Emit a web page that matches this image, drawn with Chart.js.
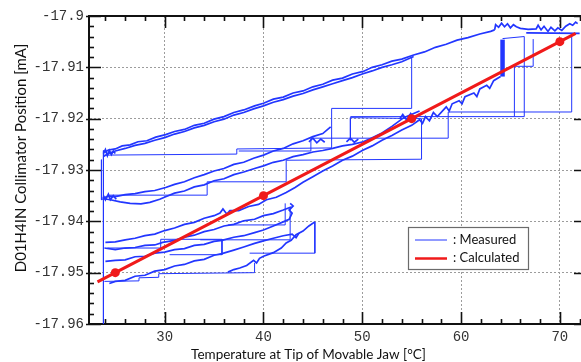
<!DOCTYPE html>
<html>
<head>
<meta charset="utf-8">
<script src="https://cdn.jsdelivr.net/npm/chart.js@4.4.1/dist/chart.umd.min.js"></script>
<style>
  html, body { margin: 0; padding: 0; background: #fff; }
  #wrap { width: 581px; height: 362px; }
</style>
</head>
<body>
<div id="wrap"><canvas id="chart" width="581" height="362"></canvas></div>
<script>
// Axis ticks
const xTicks = [30, 40, 50, 60, 70];
const yTicks = [-17.96, -17.95, -17.94, -17.93, -17.92, -17.91, -17.9];

// Calculated (red) line and its markers
const calcX = [23.2, 25, 40, 55, 70, 71.6];
const calcY = [-17.9518, -17.95, -17.935, -17.92, -17.905, -17.9034];
const calcMarked = [false, true, true, true, true, false];

// Measured traces, [temperature, position]
const upperOut = [[23.9,-17.9266],[24.3,-17.9261],[25,-17.9259],[25.7,-17.9253],[26.5,-17.9251],[27.3,-17.9245],[28.2,-17.9243],[29.1,-17.9236],[30.1,-17.9231],[31,-17.9225],[32,-17.9221],[33,-17.9213],[34,-17.9209],[35,-17.9201],[36,-17.9196],[37,-17.9188],[38,-17.9183],[39.1,-17.9175],[40,-17.9170],[41,-17.9162],[42,-17.9158],[43,-17.9150],[44,-17.9146],[45,-17.9138],[46,-17.9133],[47,-17.9125],[48,-17.9121],[49,-17.9113],[50.1,-17.9108],[51,-17.9100],[52,-17.9095],[53,-17.9088],[54,-17.9084],[55.2,-17.9076],[56.3,-17.9070],[57.4,-17.9061],[58.5,-17.9055],[59.6,-17.9047],[60.7,-17.9042],[61.9,-17.9035],[63,-17.9030],[63.4,-17.9027]];
const topCluster = [[63.4,-17.9027],[63.5,-17.9017],[63.8,-17.9022],[64.1,-17.9014],[64.4,-17.9021],[64.7,-17.9015],[65.0,-17.9023],[65.3,-17.9017],[65.6,-17.9021],[66.0,-17.9024],[66.8,-17.9026],[67.6,-17.9025],[67.8,-17.9018],[68.1,-17.9027],[68.4,-17.9020],[68.8,-17.9030],[69.1,-17.9022],[69.5,-17.9029],[69.8,-17.9023],[70.2,-17.9028],[70.6,-17.9020],[71.0,-17.9015],[71.3,-17.9018],[71.6,-17.9012],[71.8,-17.9015]];
const topRightLow = [[66.6,-17.9033],[72,-17.9034]];
const upperBack = [[55.2,-17.9079],[54,-17.9089],[53,-17.9095],[52,-17.9100],[51,-17.9107],[50,-17.9113],[49,-17.9120],[48,-17.9126],[47,-17.9132],[46,-17.9138],[45,-17.9144],[44,-17.9151],[43,-17.9156],[42,-17.9163],[41,-17.9168],[40,-17.9175],[39,-17.9181],[38,-17.9188],[37,-17.9193],[36,-17.9201],[35,-17.9206],[34,-17.9213],[33,-17.9218],[32,-17.9225],[31,-17.9230],[30,-17.9237],[29,-17.9242],[28,-17.9248],[27,-17.9252],[26,-17.9258],[25,-17.9263],[24.3,-17.9268],[23.8,-17.9274]];
const leftDrop = [[23.8,-17.9262],[23.8,-17.9600]];
const leftDrop2 = [[23.6,-17.9280],[23.6,-17.9358],[24.2,-17.9352]];
const startBlobTop = [[23.8,-17.9268],[24.0,-17.9260],[24.2,-17.9272],[24.4,-17.9262],[24.6,-17.9270],[24.8,-17.9263],[25.0,-17.9268]];
const startBlobMid = [[23.8,-17.9350],[24.0,-17.9358],[24.3,-17.9347],[24.5,-17.9358],[24.8,-17.9350],[25.1,-17.9357]];
const midUpper = [[23.7,-17.9355],[24.3,-17.9351],[25,-17.9352],[26,-17.9348],[27,-17.9346],[28,-17.9342],[29,-17.9340],[30.1,-17.9334],[31,-17.9328],[32,-17.9323],[33,-17.9315],[34,-17.9309],[35,-17.9302],[36,-17.9297],[37,-17.9289],[38,-17.9285],[39,-17.9277],[40,-17.9271],[41,-17.9263],[42,-17.9258],[43,-17.9249],[44,-17.9243],[45,-17.9235],[46,-17.9229],[46.8,-17.9216]];
const midLower = [[23.8,-17.9356],[24.5,-17.9358],[25.5,-17.9362],[26.5,-17.9365],[27.6,-17.9366],[28.5,-17.9363],[29.5,-17.9357],[30.1,-17.9352],[31,-17.9345],[32,-17.9341],[33,-17.9333],[34,-17.9329],[35,-17.9321],[36,-17.9317],[37,-17.9309],[38,-17.9304],[39.1,-17.9297],[40,-17.9292],[41,-17.9285],[42,-17.9281],[43,-17.9274],[44,-17.9270],[45,-17.9265],[46,-17.9262],[47,-17.9258],[48,-17.9253],[49,-17.9250],[50.1,-17.9245],[51,-17.9237],[52,-17.9228],[53,-17.9215],[54.2,-17.9198],[55.2,-17.9190],[55.8,-17.9185]];
const redHug = [[24.0,-17.9441],[25,-17.9440],[26,-17.9436],[27,-17.9433],[28,-17.9428],[29,-17.9425],[30,-17.9418],[31,-17.9413],[32,-17.9406],[33,-17.9402],[34,-17.9394],[35,-17.9389],[35.6,-17.9384],[35.9,-17.9376],[36.3,-17.9386],[36.6,-17.9379],[37.5,-17.9379],[38.5,-17.9371],[39.5,-17.9367],[40.3,-17.9358],[41.3,-17.9353],[42.3,-17.9344],[43.2,-17.9334],[44,-17.9324],[45,-17.9313],[46,-17.9302],[47,-17.9292],[48,-17.9281],[49,-17.9273],[50,-17.9262],[51,-17.9253],[52,-17.9242],[53,-17.9233],[54,-17.9222],[55,-17.9213],[55.8,-17.9202],[56.1,-17.9209],[56.4,-17.9196],[56.8,-17.9204],[57.2,-17.9188],[57.6,-17.9196],[58.5,-17.9177],[58.8,-17.9185],[59.1,-17.9171],[59.8,-17.9165],[60.1,-17.9171],[60.4,-17.9157],[61.3,-17.9150],[61.6,-17.9157],[61.9,-17.9142],[62.6,-17.9135],[62.9,-17.9141],[63.3,-17.9126],[64.0,-17.9118]];
const jumpBar = [[64.2,-17.9118],[64.2,-17.9046]];
const lowB = [[23.9,-17.9452],[25,-17.9455],[26,-17.9452],[27,-17.9451],[28,-17.9447],[29,-17.9446],[29.8,-17.9441],[31,-17.9437],[32,-17.9431],[33,-17.9427],[34,-17.9420],[35,-17.9416],[36,-17.9409],[37,-17.9406],[38,-17.9399],[39.1,-17.9396],[40,-17.9389],[41,-17.9385],[42,-17.9378],[42.8,-17.9372]];
const lowC = [[24,-17.9478],[25,-17.9476],[26,-17.9475],[27,-17.9469],[28,-17.9468],[29,-17.9462],[30,-17.9460],[31,-17.9455],[32,-17.9453],[33,-17.9447],[34,-17.9445],[35,-17.9439],[35.8,-17.9437],[37,-17.9431],[38,-17.9428],[39.1,-17.9422],[40,-17.9417],[41,-17.9409],[42,-17.9401],[42.6,-17.9396],[42.9,-17.9384],[42.6,-17.9378],[43.0,-17.9370],[42.7,-17.9365]];
const lowD = [[24.4,-17.9521],[25,-17.9517],[26,-17.9515],[27,-17.9507],[28,-17.9505],[29,-17.9497],[30,-17.9494],[31,-17.9487],[32,-17.9484],[33,-17.9477],[34,-17.9474],[35,-17.9466],[35.8,-17.9463],[37,-17.9456],[38,-17.9450],[39.1,-17.9443],[40,-17.9438],[41,-17.9433],[42,-17.9428],[42.9,-17.9425],[43.3,-17.9432],[43.6,-17.9423]];
const lowE = [[36.4,-17.9499],[37,-17.9494],[37.6,-17.9491],[38.3,-17.9486],[39.0,-17.9476],[39.3,-17.9481],[39.6,-17.9472],[40,-17.9468],[41,-17.9461],[41.8,-17.9452],[42.3,-17.9442],[42.8,-17.9437],[43.3,-17.9426],[44,-17.9419],[44.6,-17.9409],[45.2,-17.9401]];
const blobMid1 = [[44.6,-17.9245],[45.0,-17.9238],[45.4,-17.9247],[45.8,-17.9240],[46.2,-17.9246]];
const blobMid2 = [[48.4,-17.9245],[48.8,-17.9238],[49.2,-17.9246],[49.6,-17.9240]];
const blobMid3 = [[53.8,-17.9200],[54.1,-17.9192],[54.5,-17.9203],[54.9,-17.9190],[55.3,-17.9201],[55.7,-17.9192]];

// Step-like jumps in the measurement (thin rectangles)
const stepTop = [[23.8,-17.9271],[37.3,-17.9269],[37.3,-17.9259],[46.9,-17.9257],[46.9,-17.9180],[55.0,-17.9180],[55.0,-17.9080]];
const stepTop2 = [[37.5,-17.9263],[44.8,-17.9263],[44.8,-17.9238],[58.7,-17.9238],[58.7,-17.9187],[71.2,-17.9187],[71.2,-17.9038]];
const stepMid = [[24.4,-17.9349],[34.3,-17.9349],[34.3,-17.9323],[42.3,-17.9323],[42.3,-17.9281],[56.0,-17.9279],[56.0,-17.9200],[48.8,-17.9198],[48.8,-17.9242]];
const stepMid2 = [[48.8,-17.9196],[66.4,-17.9196],[66.4,-17.9040],[64.2,-17.9044]];
const stepRight = [[65.4,-17.9196],[65.4,-17.9098],[67.3,-17.9098],[67.3,-17.9045]];
const stepBottom = [[23.9,-17.9517],[27.4,-17.9516],[27.4,-17.9510],[29.4,-17.9509],[29.4,-17.9502],[39.1,-17.9500],[39.1,-17.9481]];
const stepLowE = [[45.2,-17.9401],[45.2,-17.9462],[38.6,-17.9462]];
const stepLow1 = [[24.2,-17.9452],[29.6,-17.9452],[29.6,-17.9435],[35.8,-17.9435],[35.8,-17.9465],[30.5,-17.9465]];
const stepLow2 = [[33.6,-17.9436],[42.7,-17.9436],[42.7,-17.9374]];
const stepLow3 = [[36.4,-17.9407],[42.2,-17.9407],[42.2,-17.9365]];

const traces = [upperOut, topCluster, topRightLow, upperBack, startBlobTop, startBlobMid, midUpper, midLower,
  redHug, lowB, lowC, lowD, lowE, blobMid1, blobMid2, blobMid3];
const steps = [leftDrop, leftDrop2, stepTop, stepTop2, stepMid, stepMid2, stepRight, stepBottom, stepLowE,
  stepLow1, stepLow2, stepLow3];

const BLUE = '#2236ff';
const RED = '#f01a1a';
const toPts = arr => arr.map(([x, y]) => ({ x, y }));

function measuredSet(arr, width) {
  return {
    label: 'Measured',
    data: toPts(arr),
    showLine: true,
    borderColor: BLUE,
    backgroundColor: BLUE,
    borderWidth: width,
    pointRadius: 0,
    tension: 0,
    order: 2
  };
}

const datasets = [{
  label: 'Calculated',
  data: calcX.map((x, i) => ({ x, y: calcY[i] })),
  showLine: true,
  borderColor: RED,
  backgroundColor: RED,
  borderWidth: 3,
  pointRadius: (c) => calcMarked[c.dataIndex] ? 4.5 : 0,
  pointBorderWidth: 0,
  pointBackgroundColor: RED,
  order: 0
}];
traces.forEach(t => datasets.push(measuredSet(t, 1.7)));
steps.forEach(t => datasets.push(measuredSet(t, 1)));
datasets.push(measuredSet(jumpBar, 4.5));

/** Frame, inward ticks, axis titles and the boxed legend */
const framePlugin = {
  id: 'frame',
  afterDraw(chart) {
    const { ctx, chartArea: a, scales: { x, y } } = chart;
    ctx.save();
    ctx.strokeStyle = '#111';
    ctx.lineWidth = 2;
    ctx.beginPath();
    ctx.moveTo(a.left - 1, a.top);
    ctx.lineTo(581, a.top);
    ctx.stroke();

    // x ticks, bottom and top
    ctx.lineWidth = 1.6;
    for (let v = 24; v <= 72; v += 2) {
      const px = Math.round(x.getPixelForValue(v)) + 0.5;
      const len = xTicks.includes(v) ? 12 : 5;
      ctx.beginPath();
      ctx.moveTo(px, a.bottom); ctx.lineTo(px, a.bottom - len);
      ctx.moveTo(px, a.top); ctx.lineTo(px, a.top + len);
      ctx.stroke();
    }
    // y ticks, left and right
    for (let i = 0; i <= 30; i++) {
      const v = -17.96 + i * 0.002;
      const py = Math.round(y.getPixelForValue(v)) + 0.5;
      const major = i % 5 === 0;
      ctx.beginPath();
      ctx.moveTo(major ? a.left - 3 : a.left, py);
      ctx.lineTo(a.left + (major ? 12 : 5), py);
      if (major) { ctx.moveTo(a.right + 6, py); ctx.lineTo(a.right - 6, py); }
      ctx.stroke();
    }

    // axis titles
    ctx.fillStyle = '#111';
    ctx.textAlign = 'center';
    ctx.textBaseline = 'alphabetic';
    ctx.font = '13.5px Lato';
    ctx.fillText('Temperature at Tip of Movable Jaw [°C]', 308.5, 359);
    ctx.font = '15px Lato';
    ctx.save();
    ctx.translate(25.5, 158);
    ctx.rotate(-Math.PI / 2);
    ctx.fillText('D01H4IN Collimator Position [mA]', 0, 0);
    ctx.restore();

    // legend box
    ctx.fillStyle = '#fff';
    ctx.fillRect(408, 227, 120, 42);
    ctx.strokeStyle = '#6b6b6b';
    ctx.lineWidth = 1.2;
    ctx.strokeRect(408.5, 227.5, 120, 42);
    ctx.strokeStyle = BLUE;
    ctx.lineWidth = 1;
    ctx.beginPath(); ctx.moveTo(415, 240); ctx.lineTo(447, 240); ctx.stroke();
    ctx.strokeStyle = RED;
    ctx.lineWidth = 2.5;
    ctx.beginPath(); ctx.moveTo(415, 258.5); ctx.lineTo(447, 258.5); ctx.stroke();
    ctx.fillStyle = '#111';
    ctx.font = '13px Lato';
    ctx.textAlign = 'left';
    ctx.fillText(': Measured', 453, 244);
    ctx.fillText(': Calculated', 453, 262);
    ctx.restore();
  }
};

new Chart(document.getElementById('chart'), {
  type: 'scatter',
  data: { datasets },
  options: {
    responsive: false,
    animation: false,
    layout: { padding: { top: 16, right: 1, left: 0, bottom: 0 } },
    plugins: { legend: { display: false }, tooltip: { enabled: false } },
    scales: {
      x: {
        type: 'linear',
        min: 22.34,
        max: 72.04,
        afterBuildTicks: (s) => { s.ticks = xTicks.map(v => ({ value: v })); },
        afterFit: (s) => { s.height = 38; },
        grid: { color: '#9c9c9c', lineWidth: 1, drawTicks: false },
        border: { color: '#111', width: 2, dash: [2, 2] },
        ticks: {
          padding: 5, autoSkip: false, maxRotation: 0, color: '#333',
          font: { family: 'Liberation Mono', size: 14 },
          callback: (v) => String(v)
        }
      },
      y: {
        type: 'linear',
        min: -17.96,
        max: -17.9,
        afterBuildTicks: (s) => { s.ticks = yTicks.map(v => ({ value: v })); },
        afterFit: (s) => { s.width = 89; },
        grid: { color: '#9c9c9c', lineWidth: 1, drawTicks: false },
        border: { color: '#111', width: 2, dash: [2, 2] },
        ticks: {
          padding: 5, autoSkip: false, color: '#333',
          font: { family: 'Liberation Mono', size: 14 },
          callback: (v) => String(parseFloat(v.toFixed(3)))
        }
      }
    }
  },
  plugins: [framePlugin]
});
</script>
</body>
</html>
